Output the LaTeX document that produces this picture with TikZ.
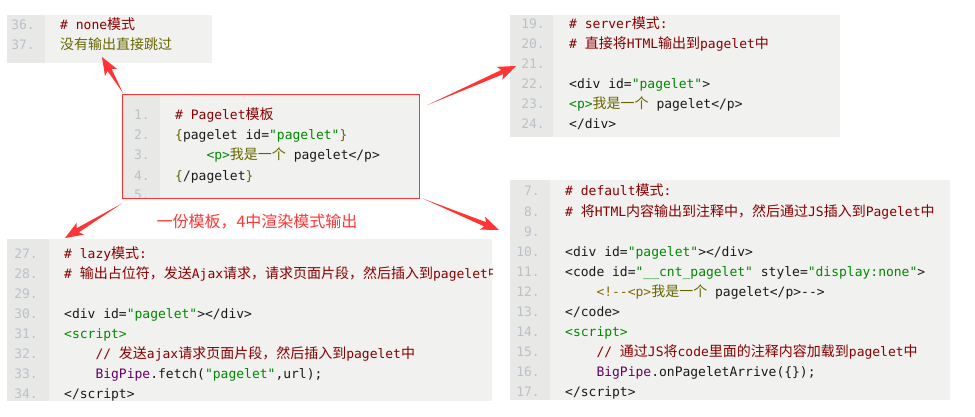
\documentclass[tikz,border=0pt]{standalone}
\usepackage{fontspec}
\usetikzlibrary{calc}
\newfontfamily\codefont{DejaVu Sans Mono}
\newfontfamily\zhfont{Noto Sans CJK SC}
\definecolor{codebg}{HTML}{F1F1EF}
\definecolor{gutterbg}{HTML}{E8E9E7}
\definecolor{numgray}{HTML}{B9C1C9}
\definecolor{codeblack}{HTML}{1A1A1A}
\definecolor{cmtred}{HTML}{880000}
\definecolor{strgreen}{HTML}{008800}
\definecolor{txtolive}{HTML}{666600}
\definecolor{kwpurple}{HTML}{660066}
\definecolor{tagbrown}{HTML}{886600}
\definecolor{markred}{HTML}{FF3535}
\newcommand{\zh}[1]{{\zhfont\fontsize{14pt}{14pt}\selectfont #1}}
\newcommand{\ccmt}[1]{\textcolor{cmtred}{#1}}
\newcommand{\cstr}[1]{\textcolor{strgreen}{#1}}
\newcommand{\colv}[1]{\textcolor{txtolive}{#1}}
\newcommand{\ckw}[1]{\textcolor{kwpurple}{#1}}
\newcommand{\ctag}[1]{\textcolor{tagbrown}{#1}}
% tapered red arrow: #1 tail, #2 tip
\newcommand{\taperarrow}[2]{%
  \fill[markred] (#1) -- ($(#2)!15pt!(#1)!2.3pt!90:(#1)$) -- ($(#2)!18pt!(#1)!7pt!90:(#1)$)
    -- (#2) -- ($(#2)!18pt!(#1)!7pt!-90:(#1)$) -- ($(#2)!15pt!(#1)!2.3pt!-90:(#1)$) -- cycle;}

\begin{document}
\begin{tikzpicture}[x=1pt,y=-1pt,
    codebox/.style={fill=codebg, inner sep=0, anchor=north west},
    lnum/.style={font=\codefont\fontsize{13pt}{13pt}\selectfont, text=numgray, anchor=base east, inner sep=0},
    codeline/.style={font=\codefont\fontsize{13pt}{13pt}\selectfont, text=codeblack, anchor=base west, inner sep=0},
    indent/.style={xshift=31.3pt},
    note/.style={font=\zhfont\fontsize{16pt}{16pt}\selectfont, text=markred, inner sep=0}]
    \useasboundingbox (0,0) rectangle (975,417);

    % none
    \node[codebox, minimum width=205pt, minimum height=48pt] (none) at (7,15) {};
    \fill[gutterbg] (none.north west) rectangle ($(none.south west)+(38,0)$);
    \foreach \n [count=\i from 0] in {36,37}
        \node[lnum] (a\n) at (35,30+20*\i) {\n.};
    \node[codeline] (l36) at (60,30) {\ccmt{\# none\zh{模式}}};
    \node[codeline] (l37) at (60,50) {\colv{\zh{没有输出直接跳过}}};

    % server
    \node[codebox, minimum width=330pt, minimum height=122pt] (srv) at (510,15) {};
    \fill[gutterbg] (srv.north west) rectangle ($(srv.south west)+(43,0)$);
    \foreach \n [count=\i from 0] in {19,...,24}
        \node[lnum] (b\n) at (545,29+20*\i) {\n.};
    \node[codeline] (l19) at (569,29) {\ccmt{\# server\zh{模式}:}};
    \node[codeline] (l20) at (569,49) {\ccmt{\# \zh{直接将}HTML\zh{输出到}pagelet\zh{中}}};
    \node[codeline] (l22) at (569,89) {<div id=\cstr{"pagelet"}>};
    \node[codeline] (l23) at (569,109) {\cstr{<p>}\colv{\zh{我是一个}} pagelet</p>};
    \node[codeline] (l24) at (569,129) {</div>};

    % template
    \node[codebox, minimum width=297pt, minimum height=103pt] (tpl) at (122,95) {};
    \begin{scope}
        \clip (tpl.north west) rectangle (tpl.south east);
        \fill[gutterbg] (tpl.north west) rectangle ($(tpl.south west)+(38,0)$);
        \foreach \n [count=\i from 0] in {1,...,5}
            \node[lnum] (c\n) at (150,120+20*\i) {\n.};
        \node[codeline] (t1) at (175,120) {\ccmt{\# Pagelet\zh{模板}}};
        \node[codeline] (t2) at (175,140) {\colv{\{}pagelet id=\cstr{"pagelet"}\colv{\}}};
        \node[codeline, indent] (t3) at (175,160) {\cstr{<p>}\colv{\zh{我是一个}} pagelet</p>};
        \node[codeline] (t4) at (175,180) {\colv{\{}/pagelet\colv{\}}};
    \end{scope}
    \draw[markred, line width=1pt] (tpl.north west) rectangle (tpl.south east);
    \node[note] (cap) at (257,222) {一份模板，4中渲染模式输出};

    % lazy
    \node[codebox, minimum width=485pt, minimum height=162pt] (lazy) at (7,239) {};
    \begin{scope}
        \clip (lazy.north west) rectangle (lazy.south east);
        \fill[gutterbg] (lazy.north west) rectangle ($(lazy.south west)+(42,0)$);
        \foreach \n [count=\i from 0] in {27,...,34}
            \node[lnum] (d\n) at (38,258+20*\i) {\n.};
        \node[codeline] (l27) at (64,258) {\ccmt{\# lazy\zh{模式}:}};
        \node[codeline] (l28) at (64,278) {\ccmt{\# \zh{输出占位符，发送}Ajax\zh{请求，请求页面片段，然后插入到}pagelet\zh{中}}};
        \node[codeline] (l30) at (64,318) {<div id=\cstr{"pagelet"}></div>};
        \node[codeline] (l31) at (64,338) {\cstr{<script>}};
        \node[codeline, indent] (l32) at (64,358) {\ccmt{// \zh{发送}ajax\zh{请求页面片段，然后插入到}pagelet\zh{中}}};
        \node[codeline, indent] (l33) at (64,378) {\ckw{BigPipe}.fetch(\cstr{"pagelet"},url);};
        \node[codeline] (l34) at (64,398) {</script>};
    \end{scope}

    % default
    \node[codebox, minimum width=440pt, minimum height=220pt] (dflt) at (510,180) {};
    \fill[gutterbg] (dflt.north west) rectangle ($(dflt.south west)+(40,0)$);
    \foreach \n [count=\i from 0] in {7,...,17}
        \node[lnum] (e\n) at (540,196+20*\i) {\n.};
    \node[codeline] (l7) at (565,196) {\ccmt{\# default\zh{模式}:}};
    \node[codeline] (l8) at (565,216) {\ccmt{\# \zh{将}HTML\zh{内容输出到注释中，然后通过}JS\zh{插入到}Pagelet\zh{中}}};
    \node[codeline] (l10) at (565,256) {<div id=\cstr{"pagelet"}></div>};
    \node[codeline] (l11) at (565,276) {<code id=\cstr{"\_\_cnt\_pagelet"} style=\cstr{"display:none"}>};
    \node[codeline, indent] (l12) at (565,296) {\ctag{<!--<p>}\colv{\zh{我是一个}} pagelet</p>-->};
    \node[codeline] (l13) at (565,316) {</code>};
    \node[codeline] (l14) at (565,336) {\cstr{<script>}};
    \node[codeline, indent] (l15) at (565,356) {\ccmt{// \zh{通过}JS\zh{将}code\zh{里面的注释内容加载到}pagelet\zh{中}}};
    \node[codeline, indent] (l16) at (565,376) {\ckw{BigPipe}.onPageletArrive(\{\});};
    \node[codeline] (l17) at (565,396) {</script>};

    % arrows
    \coordinate (ta) at ($(tpl.north west)+(1,-2)$);
    \coordinate (ha) at (102,57);
    \coordinate (tb) at ($(tpl.north east)+(8,10)$);
    \coordinate (hb) at (516,66);
    \coordinate (tc) at ($(tpl.south west)+(0,5)$);
    \coordinate (hc) at (65,238);
    \coordinate (td) at ($(tpl.south east)+(3,0)$);
    \coordinate (hd) at (499,230);
    \taperarrow{ta}{ha}
    \taperarrow{tb}{hb}
    \taperarrow{tc}{hc}
    \taperarrow{td}{hd}
\end{tikzpicture}
\end{document}
